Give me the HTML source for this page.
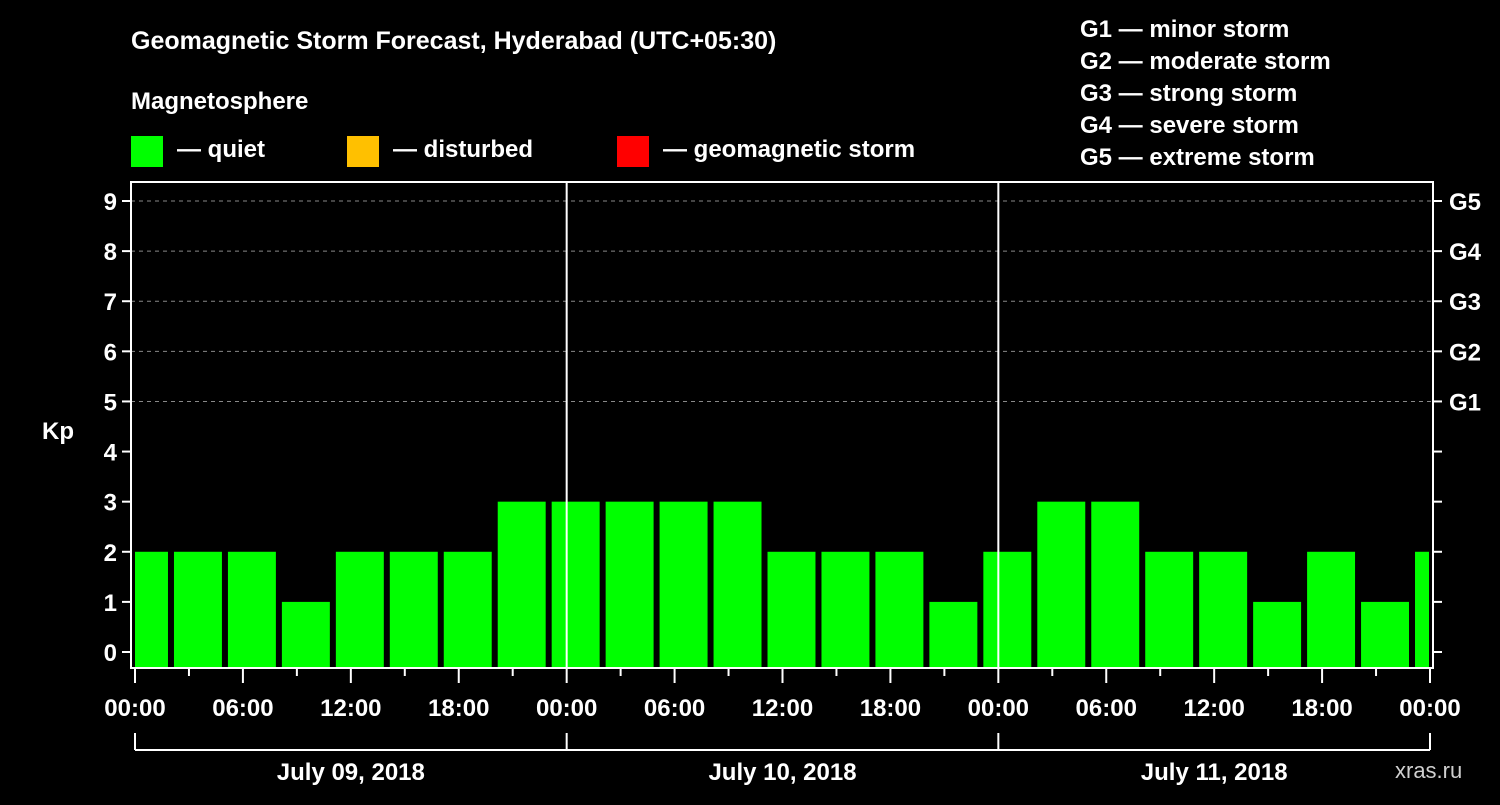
<!DOCTYPE html>
<html><head><meta charset="utf-8"><style>
body{margin:0;background:#000;}
svg text{font-family:"Liberation Sans",Arial,sans-serif;font-weight:bold;fill:#fff;}
</style></head><body>
<svg id="c" width="1500" height="800" viewBox="0 0 1500 800">
<rect width="1500" height="800" fill="#000"/>
<text x="131" y="49" font-size="25">Geomagnetic Storm Forecast, Hyderabad (UTC+05:30)</text>
<text x="131" y="109" font-size="24">Magnetosphere</text>
<g><rect x="131" y="136" width="32" height="31" fill="#00ff00"/><text x="177" y="157" font-size="24">— quiet</text></g>
<g><rect x="347" y="136" width="32" height="31" fill="#ffc000"/><text x="393" y="157" font-size="24">— disturbed</text></g>
<g><rect x="617" y="136" width="32" height="31" fill="#ff0000"/><text x="663" y="157" font-size="24">— geomagnetic storm</text></g>
<g font-size="24">
<text x="1080" y="37">G1 — minor storm</text>
<text x="1080" y="69">G2 — moderate storm</text>
<text x="1080" y="101">G3 — strong storm</text>
<text x="1080" y="133">G4 — severe storm</text>
<text x="1080" y="165">G5 — extreme storm</text>
</g>
<text x="42" y="439" font-size="24">Kp</text>
<text x="1395" y="778" font-size="22" fill="#ccc" style="fill:#cfcfcf;font-weight:normal">xras.ru</text>
<g id="plot"></g>
</svg>
<script>
const kpValues=[2,2,2,1,2,2,2,3,3,3,3,3,2,2,2,1,2,3,3,2,2,1,2,1,2];
const binStartHour=-1;
const binHours=3;
const yTicks=[0,1,2,3,4,5,6,7,8,9];
const gLabels=["G1","G2","G3","G4","G5"];
const gKp=[5,6,7,8,9];
const xTickLabels=["00:00","06:00","12:00","18:00","00:00","06:00","12:00","18:00","00:00","06:00","12:00","18:00","00:00"];
const dayLabels=["July 09, 2018","July 10, 2018","July 11, 2018"];

const NS="http://www.w3.org/2000/svg";
const X0=135,X1=1430,H=72;
const L=131,R=1433,T=182,B=668;
const xs=h=>X0+(X1-X0)*h/H;
const ys=k=>652-(652-201)*k/9;
const g=document.getElementById('plot');
function mk(tag,a,parent){const e=document.createElementNS(NS,tag);for(const k in a)e.setAttribute(k,a[k]);(parent||g).appendChild(e);return e;}

yTicks.forEach(k=>{if(k>=5){const l=mk('line',{x1:L,x2:R,y1:ys(k),y2:ys(k),stroke:'#888','stroke-dasharray':'4,4','stroke-width':1});

}});

kpValues.forEach((v,i)=>{
  const h0=binStartHour+i*binHours;
  let a=xs(h0)+3,b=xs(h0+binHours)-3;
  a=Math.max(a,L+4);b=Math.min(b,R-4);
  const r=mk('rect',{x:a,y:ys(v),width:b-a,height:(B-1)-ys(v),fill:v>=5?'#ff0000':(v>=4?'#ffc000':'#00ff00')});
  
  
});

for(let d=1;d<3;d++){const l=mk('line',{x1:xs(d*24),x2:xs(d*24),y1:T,y2:B,stroke:'#fff','stroke-width':2});

}

const fr=mk('rect',{x:L,y:T,width:R-L,height:B-T,fill:'none',stroke:'#fff','stroke-width':2});



yTicks.forEach(k=>{
  mk('line',{x1:L-9,x2:L,y1:ys(k),y2:ys(k),stroke:'#fff','stroke-width':2});
  mk('line',{x1:R,x2:R+9,y1:ys(k),y2:ys(k),stroke:'#fff','stroke-width':2});
  const t=mk('text',{x:L-14,y:ys(k)+9,'font-size':24,'text-anchor':'end'});t.textContent=k;
  
  
});
gLabels.forEach((s,i)=>{const t=mk('text',{x:1449,y:ys(gKp[i])+9,'font-size':24});t.textContent=s;

});

for(let h=0;h<=H;h+=3){const major=h%6==0;mk('line',{x1:xs(h),x2:xs(h),y1:B,y2:B+(major?15:8),stroke:'#fff','stroke-width':2});}
xTickLabels.forEach((s,i)=>{const t=mk('text',{x:xs(i*6),y:716,'font-size':24,'text-anchor':'middle'});t.textContent=s;

});

mk('line',{x1:X0,x2:X1,y1:750,y2:750,stroke:'#fff','stroke-width':2});
for(let d=0;d<=3;d++)mk('line',{x1:xs(d*24),x2:xs(d*24),y1:733,y2:750,stroke:'#fff','stroke-width':2});
dayLabels.forEach((s,i)=>{const t=mk('text',{x:xs(i*24+12),y:780,'font-size':24,'text-anchor':'middle'});t.textContent=s;

});
</script>
</body></html>
